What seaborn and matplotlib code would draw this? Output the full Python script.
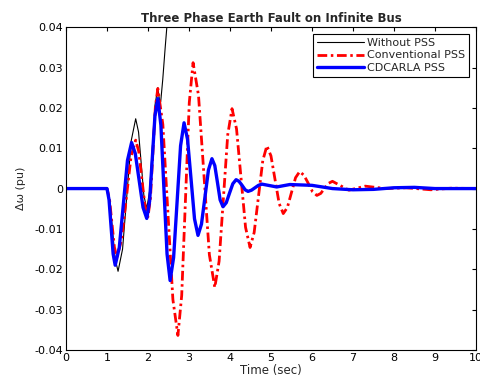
import matplotlib
matplotlib.use("Agg")
import matplotlib.pyplot as plt
import seaborn as sns
import pandas as pd

# (time in sec, speed deviation in pu)
t_nopss = [0, 1.0, 1.07, 1.135, 1.2, 1.27, 1.38, 1.485, 1.59, 1.7, 1.77, 1.835,
           1.9, 1.97, 2.04, 2.105, 2.17, 2.24, 2.28, 2.31, 2.36, 2.42, 2.46, 2.5]
y_nopss = [0, 0, -0.003, -0.0103, -0.0175, -0.0205, -0.015, -0.0016, 0.0118,
           0.0173, 0.014, 0.0062, -0.0017, -0.005, -0.0006, 0.01, 0.0206, 0.025,
           0.022, 0.0215, 0.027, 0.035, 0.04, 0.05]

t_conv = [0, 1.0, 1.06, 1.12, 1.18, 1.24, 1.355, 1.47, 1.585, 1.7, 1.775, 1.85,
          1.925, 2.0, 2.06, 2.12, 2.18, 2.24, 2.3625, 2.485, 2.6075, 2.73,
          2.8225, 2.915, 3.0075, 3.1, 3.2325, 3.365, 3.4975, 3.63, 3.735, 3.84,
          3.945, 4.05, 4.16, 4.27, 4.38, 4.49, 4.59, 4.695, 4.8, 4.9, 5.0, 5.1,
          5.2, 5.3, 5.4, 5.5, 5.6, 5.7, 5.805, 5.91, 6.015, 6.12, 6.215, 6.31,
          6.405, 6.5, 6.9, 7.3, 7.8, 8.3, 8.9, 9.4, 10.0]
y_conv = [0, 0, -0.0025, -0.0085, -0.0145, -0.017, -0.0128, -0.0025, 0.0078,
          0.012, 0.0092, 0.0025, -0.0042, -0.007, -0.0024, 0.0089, 0.0202, 0.0248,
          0.0159, -0.0058, -0.0275, -0.0364, -0.0265, -0.0026, 0.0213, 0.0312,
          0.0231, 0.0034, -0.0164, -0.0245, -0.018, -0.0024, 0.0133, 0.0198,
          0.0148, 0.0026, -0.0096, -0.0146, -0.0109, -0.002, 0.0069, 0.0106,
          0.0081, 0.0022, -0.0037, -0.0062, -0.0047, -0.001, 0.0027, 0.0042,
          0.0033, 0.0013, -0.0008, -0.0017, -0.0012, 0.0001, 0.0013, 0.0018,
          -0.0004, 0.0006, 0.0, 0.0002, -0.0003, 0.0001, 0.0]

t_cdc = [0, 1.0, 1.05, 1.1, 1.15, 1.2, 1.3, 1.4, 1.5, 1.6, 1.69, 1.785, 1.88,
         1.97, 2.04, 2.105, 2.17, 2.24, 2.315, 2.39, 2.465, 2.54, 2.625, 2.71,
         2.795, 2.88, 2.965, 3.05, 3.135, 3.22, 3.305, 3.39, 3.475, 3.56, 3.63,
         3.695, 3.76, 3.83, 3.91, 3.99, 4.07, 4.15, 4.22, 4.295, 4.37, 4.44,
         4.525, 4.61, 4.695, 4.78, 5.14, 5.46, 6.0, 6.5, 7.0, 7.5, 8.0, 8.5,
         9.0, 10.0]
y_cdc = [0, 0, -0.0028, -0.0095, -0.0162, -0.019, -0.0146, -0.0038, 0.007,
         0.0114, 0.0087, 0.002, -0.0047, -0.0074, -0.0031, 0.0075, 0.018, 0.0223,
         0.0157, -0.0003, -0.0162, -0.0228, -0.0171, -0.0033, 0.0106, 0.0163,
         0.0122, 0.0024, -0.0075, -0.0116, -0.0088, -0.0021, 0.0046, 0.0074,
         0.0057, 0.0015, -0.0028, -0.0045, -0.0035, -0.0011, 0.0012, 0.0022,
         0.0018, 0.0008, -0.0003, -0.0007, -0.0004, 0.0002, 0.0008, 0.0011,
         0.0004, 0.001, 0.0008, 0.0, -0.0003, -0.0002, 0.0002, 0.0003, 0.0, 0.0]

sns.set_style("white")
plt.rcParams['font.family'] = ['DejaVu Sans']

fig = plt.figure(figsize=(4.8, 3.88), dpi=100)
ax = fig.add_axes([0.1375, 0.098, 0.854, 0.832])

sns.lineplot(x=t_nopss, y=y_nopss, color='black', lw=0.8, estimator=None,
             label='Without PSS', ax=ax)
sns.lineplot(x=t_conv, y=y_conv, color='red', lw=2.0, estimator=None,
             label='Conventional PSS', ax=ax)
ax.lines[-1].set_dashes([3.5, 1.3, 0.9, 1.3])
sns.lineplot(x=t_cdc, y=y_cdc, color='blue', lw=2.4, estimator=None,
             label='CDCARLA PSS', ax=ax)

ax.set_xlim(0, 10)
ax.set_ylim(-0.04, 0.04)
ax.set_xticks(range(0, 11))
ax.set_yticks([-0.04, -0.03, -0.02, -0.01, 0, 0.01, 0.02, 0.03, 0.04])
ax.yaxis.set_major_formatter(
    matplotlib.ticker.FuncFormatter(lambda v, p: '0' if abs(v) < 1e-9 else f'{v:g}'))
ax.tick_params(direction='in', top=True, right=True, length=3, width=0.8,
               labelsize=8, pad=2, colors='black')
for s in ax.spines.values():
    s.set_color('black')
    s.set_linewidth(0.8)

ax.set_title('Three Phase Earth Fault on Infinite Bus', fontsize=8.5,
             fontweight='bold', pad=4)
ax.set_xlabel('Time (sec)', fontsize=8.5, labelpad=1)
ax.set_ylabel('Δω (pu)', fontsize=8, labelpad=6)

leg = ax.legend(loc='upper right', fontsize=8, handlelength=4.2,
                fancybox=False, edgecolor='black', framealpha=1,
                borderaxespad=0.6, labelspacing=0.25, handletextpad=0.3,
                borderpad=0.35)
leg.get_frame().set_linewidth(0.8)

fig.savefig('out.png', dpi=100)
